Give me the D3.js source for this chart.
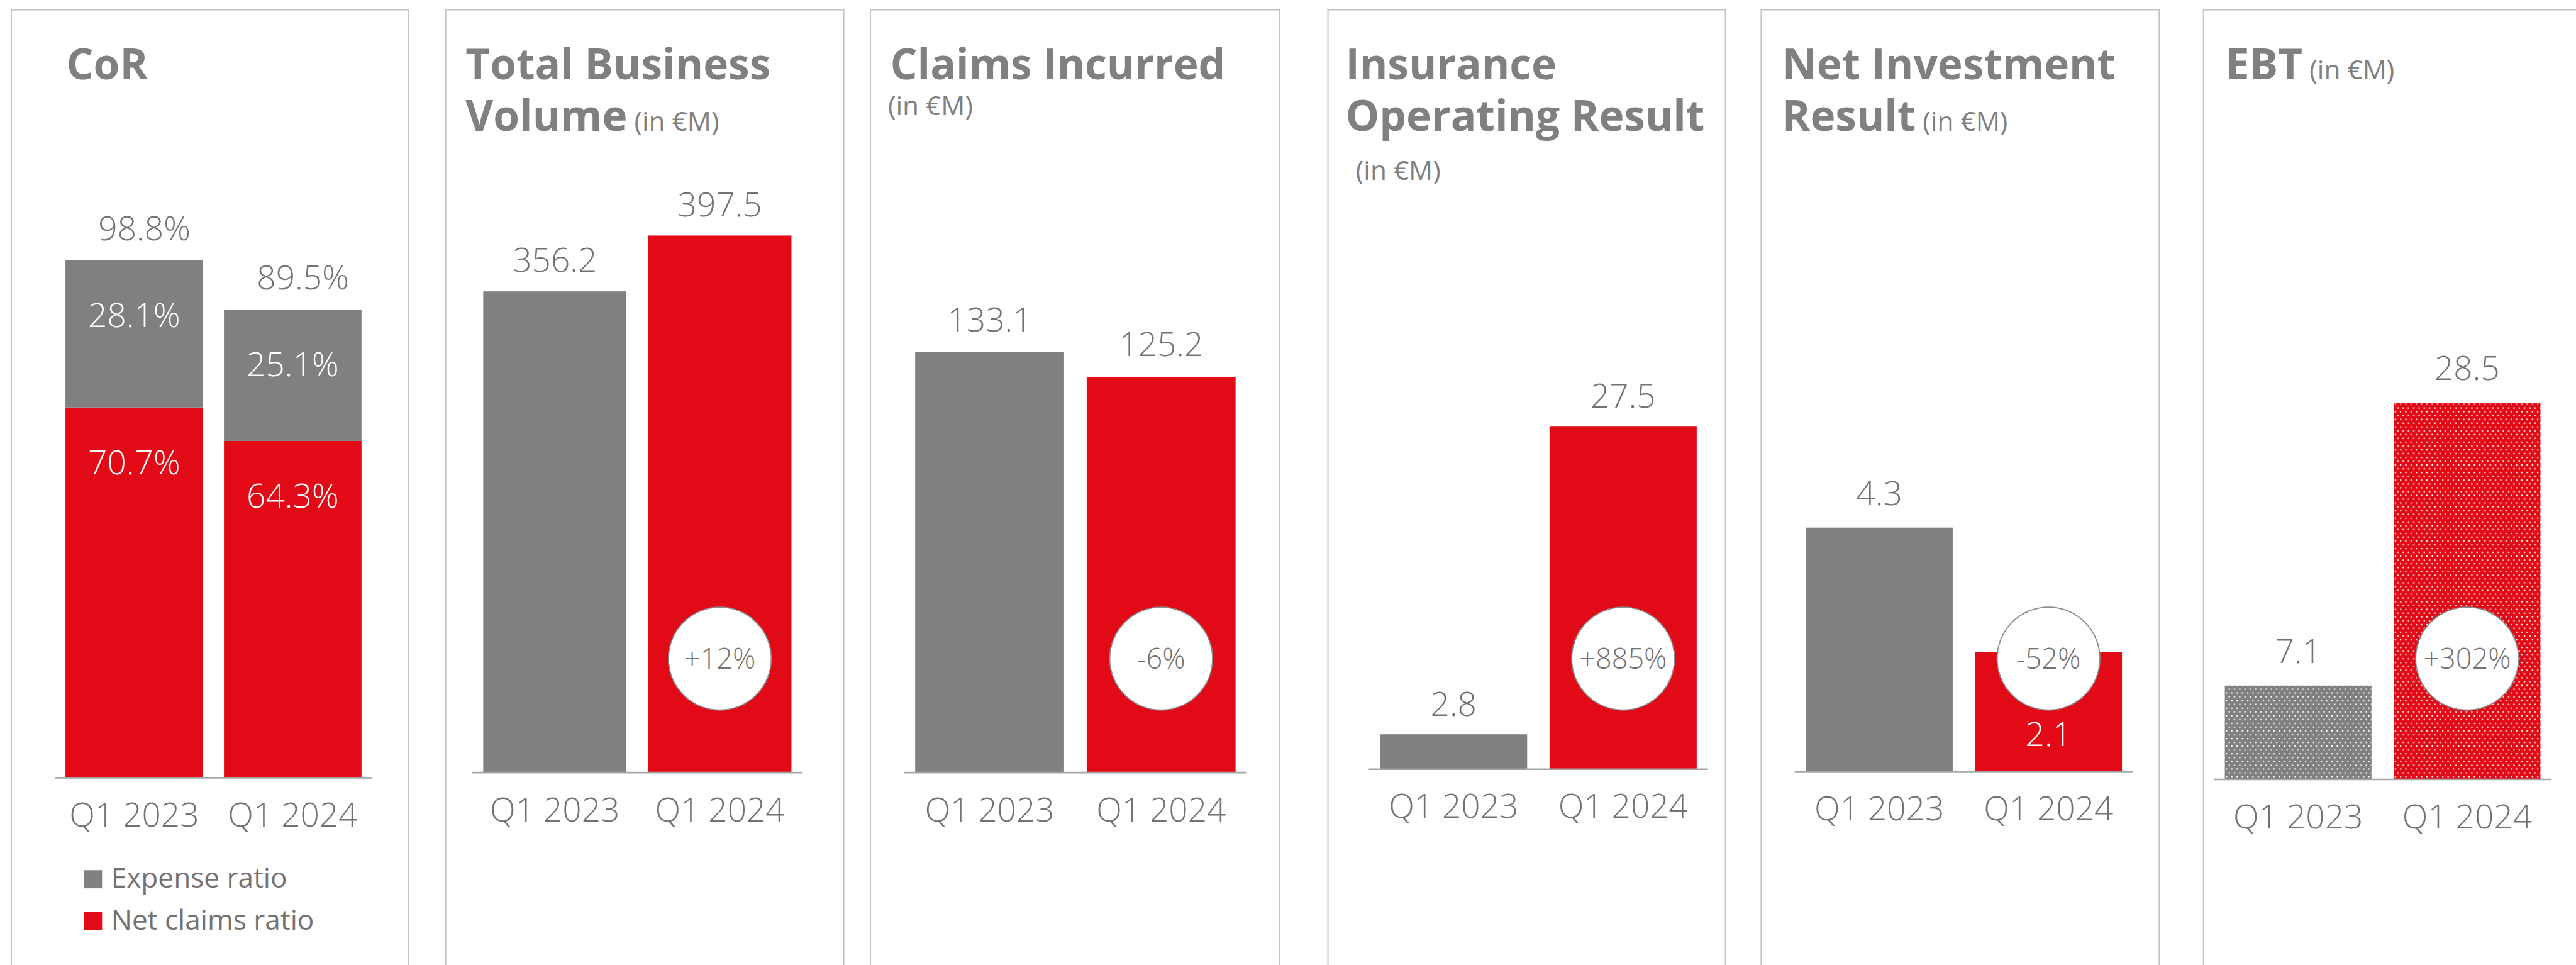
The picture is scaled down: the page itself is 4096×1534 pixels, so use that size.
<!DOCTYPE html>
<html>
<head>
<meta charset="utf-8">
<script src="https://cdn.jsdelivr.net/npm/d3@7"></script>
<style>
html,body{margin:0;padding:0;background:#fff;overflow:hidden}
svg{display:block}
text{font-family:"Open Sans",sans-serif}
</style>
</head>
<body>
<div id="chart"></div>
<script>
// data
var periods = ["Q1 2023", "Q1 2024"];
var expenseRatio = [28.1, 25.1];
var netClaimsRatio = [70.7, 64.3];
var corTotal = ["98.8%", "89.5%"];
var businessVolume = [356.2, 397.5];
var claimsIncurred = [133.1, 125.2];
var insuranceResult = [2.8, 27.5];
var investmentResult = [4.3, 2.1];
var ebt = [7.1, 28.5];
var changes = ["+12%", "-6%", "+885%", "-52%", "+302%"];
var legendLabels = ["Expense ratio", "Net claims ratio"];

var RED = "#e20a17", GREY = "#808080", TXT = "#767171", TITLE = "#808080";

// whole drawing is laid out in the reference's own pixel units and scaled down by the viewBox
var W = 4543, H = 1701;
var svg = d3.select("#chart").append("svg")
    .attr("width", 4096).attr("height", 1534)
    .attr("viewBox", "0 0 " + W + " " + H);

var defs = svg.append("defs");
[["dotGrey", GREY], ["dotRed", RED]].forEach(function(p){
    var pat = defs.append("pattern").attr("id", p[0])
        .attr("patternUnits", "userSpaceOnUse").attr("width", 9.3).attr("height", 13.4);
    pat.append("rect").attr("width", 9.3).attr("height", 13.4).attr("fill", p[1]);
    pat.append("rect").attr("x", 1).attr("y", 1).attr("width", 2.4).attr("height", 2.4).attr("fill", "#fff");
    pat.append("rect").attr("x", 5.65).attr("y", 7.7).attr("width", 2.4).attr("height", 2.4).attr("fill", "#fff");
});

// panel frames and titles (labelGap = distance from bar top to the value label's baseline)
var panels = [
    {left: 20, right: 721, axis: [97, 656], base: 1371, yMax: 108.3, labelGap: 35,
     title: [{x: 117, y: 140, parts: [["CoR", "b"]]}]},
    {left: 786, right: 1488, axis: [833, 1415], base: 1362, yMax: 419.8, labelGap: 34,
     title: [{x: 821, y: 140, parts: [["Total Business", "b"]]},
             {x: 821, y: 230, parts: [["Volume", "b"], [" (in €M)", "s"]]}]},
    {left: 1535, right: 2257, axis: [1594, 2199], base: 1362, yMax: 179.4, labelGap: 36,
     title: [{x: 1570, y: 140, parts: [["Claims Incurred", "b"]]},
             {x: 1566, y: 203, parts: [["(in €M)", "s"]]}]},
    {left: 2342, right: 3043, axis: [2414, 3012], base: 1356, yMax: 45.45, labelGap: 32,
     title: [{x: 2373, y: 140, parts: [["Insurance", "b"]]},
             {x: 2373, y: 230, parts: [["Operating Result", "b"]]},
             {x: 2391, y: 317, parts: [["(in €M)", "s"]]}]},
    {left: 3106, right: 3808, axis: [3165, 3762], base: 1360, yMax: 10.0, labelGap: 40,
     title: [{x: 3143, y: 140, parts: [["Net Investment", "b"]]},
             {x: 3143, y: 230, parts: [["Result", "b"], [" (in €M)", "s"]]}]},
    {left: 3886, right: 4600, axis: [3904, 4500], base: 1374, yMax: 42.9, labelGap: 40,
     title: [{x: 3925, y: 140, parts: [["EBT", "b"], [" (in €M)", "s"]]}]}
];

panels.forEach(function(p){
    svg.append("path")
        .attr("d", "M" + p.left + "," + (H + 5) + "V17H" + p.right + "V" + (H + 5))
        .attr("fill", "none").attr("stroke", "#c3c3c3").attr("stroke-width", 2.2);
    var t = svg.append("text").attr("fill", TITLE);
    p.title.forEach(function(line){
        line.parts.forEach(function(part, j){
            var ts = t.append("tspan").text(part[0])
                .attr("font-size", part[1] == "b" ? 75 : 47)
                .attr("font-weight", part[1] == "b" ? 700 : 400)
                .attr("xml:space", "preserve");
            if (j == 0) ts.attr("x", line.x).attr("y", line.y);
        });
    });
});

function scalesFor(p){
    var x = d3.scaleBand().domain(periods).range(p.axis).paddingInner(0.132).paddingOuter(0.066);
    var y = d3.scaleLinear().domain([0, p.yMax]).range([p.base, p.base - 1000]);
    return {x: x, y: y};
}

function axisFor(g, p, x){
    g.append("g").attr("transform", "translate(0," + p.base + ")")
        .call(d3.axisBottom(x).tickSize(0).tickPadding(0))
        .call(function(a){
            a.select(".domain").attr("stroke", "#a6a6a6").attr("stroke-width", 3)
                .attr("d", "M" + p.axis[0] + ",0H" + p.axis[1]);
            a.selectAll("text").attr("font-size", 59).attr("font-weight", 300)
                .attr("fill", TXT).attr("font-family", "Open Sans")
                .attr("dy", null).attr("y", 86);
        });
}

// --- CoR: stacked bars ---
(function(){
    var p = panels[0], s = scalesFor(p);
    var g = svg.append("g");
    var rows = periods.map(function(d, i){ return {period: d, claims: netClaimsRatio[i], expense: expenseRatio[i]}; });
    var stack = d3.stack().keys(["claims", "expense"])(rows);
    var colors = {claims: RED, expense: GREY};
    stack.forEach(function(layer){
        g.selectAll(null).data(layer).enter().append("rect")
            .attr("x", function(d){ return s.x(d.data.period); })
            .attr("width", s.x.bandwidth())
            .attr("y", function(d){ return s.y(d[1]); })
            .attr("height", function(d){ return s.y(d[0]) - s.y(d[1]); })
            .attr("fill", colors[layer.key]);
        g.selectAll(null).data(layer).enter().append("text")
            .attr("x", function(d){ return s.x(d.data.period) + s.x.bandwidth() / 2; })
            .attr("y", function(d){ return s.y(d[1]) + 118; })
            .attr("text-anchor", "middle").attr("font-size", 59).attr("font-weight", 300)
            .attr("fill", "#fff")
            .text(function(d){ return d3.format(".1f")(d.data[layer.key]) + "%"; });
    });
    // totals sit a little right of the bar centre, as on the slide
    var top = stack[stack.length - 1];
    g.selectAll(null).data(top).enter().append("text")
        .attr("x", function(d){ return s.x(d.data.period) + s.x.bandwidth() / 2 + 18; })
        .attr("y", function(d){ return s.y(d[1]) - p.labelGap; })
        .attr("text-anchor", "middle").attr("font-size", 59).attr("font-weight", 300)
        .attr("fill", TXT)
        .text(function(d, i){ return corTotal[i]; });
    axisFor(g, p, s.x);

    // legend
    var lg = g.append("g").attr("transform", "translate(148,1534)");
    lg.selectAll("rect").data(legendLabels).enter().append("rect")
        .attr("x", 0).attr("y", function(d, i){ return i * 74; })
        .attr("width", 32).attr("height", 32)
        .attr("fill", function(d, i){ return i == 0 ? GREY : RED; });
    lg.selectAll("text").data(legendLabels).enter().append("text")
        .attr("x", 48).attr("y", function(d, i){ return i * 74 + 31; })
        .attr("font-size", 49).attr("font-weight", 400).attr("fill", TXT)
        .text(function(d){ return d; });
})();

// --- simple two-bar panels ---
var series = [businessVolume, claimsIncurred, insuranceResult, investmentResult, ebt];
var fills = [[GREY, RED], [GREY, RED], [GREY, RED], [GREY, RED], ["url(#dotGrey)", "url(#dotRed)"]];

series.forEach(function(vals, k){
    var p = panels[k + 1], s = scalesFor(p);
    var g = svg.append("g");
    var rows = periods.map(function(d, i){ return {period: d, value: vals[i], i: i}; });
    g.selectAll("rect.bar").data(rows).enter().append("rect")
        .attr("class", "bar")
        .attr("x", function(d){ return s.x(d.period); })
        .attr("width", s.x.bandwidth())
        .attr("y", function(d){ return s.y(d.value); })
        .attr("height", function(d){ return s.y(0) - s.y(d.value); })
        .attr("fill", function(d){ return fills[k][d.i]; });
    axisFor(g, p, s.x);

    // change bubble on the latest bar
    var cx = s.x(periods[1]) + s.x.bandwidth() / 2;
    g.append("circle").attr("cx", cx).attr("cy", 1161).attr("r", 90.7)
        .attr("fill", "#fff").attr("stroke", "#8a8a8a").attr("stroke-width", 2);
    g.append("text").attr("x", cx).attr("y", 1179).attr("text-anchor", "middle")
        .attr("font-size", 50).attr("font-weight", 300).attr("fill", TXT)
        .text(changes[k]);

    // value labels: above the bar, or inside at the base when the bubble sits on it
    g.selectAll("text.val").data(rows).enter().append("text")
        .attr("class", "val")
        .attr("x", function(d){ return s.x(d.period) + s.x.bandwidth() / 2; })
        .attr("y", function(d){
            var inside = (k == 3 && d.i == 1);
            return inside ? s.y(0) - 45 : s.y(d.value) - p.labelGap;
        })
        .attr("text-anchor", "middle").attr("font-size", 59).attr("font-weight", 300)
        .attr("fill", function(d){ return (k == 3 && d.i == 1) ? "#fff" : TXT; })
        .text(function(d){ return d3.format(".1f")(d.value); });
});
</script>
</body>
</html>
